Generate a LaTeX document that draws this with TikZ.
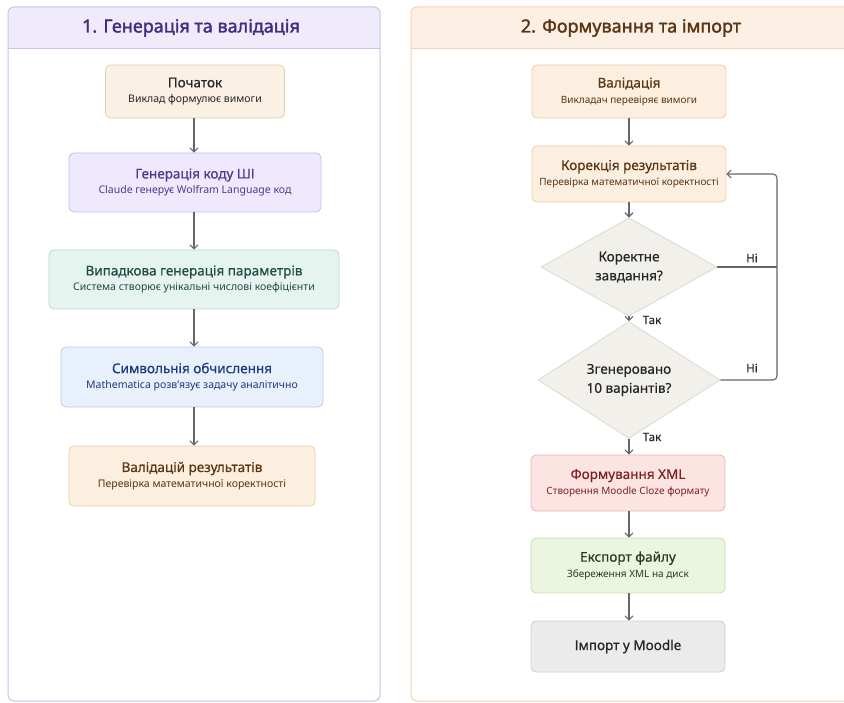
\documentclass[tikz,border=0pt]{standalone}
\usepackage{fontspec}
\setmainfont{Noto Sans}
\newfontfamily\semib{Noto Sans}[FakeBold=1.6]
\newfontfamily\medf{Noto Sans}[FakeBold=0.5]
\usetikzlibrary{arrows.meta,shapes.geometric}
\definecolor{pLborder}{HTML}{C9C3EE}
\definecolor{pLhead}{HTML}{EFEBFB}
\definecolor{pLtitle}{HTML}{3F2D7E}
\definecolor{pRborder}{HTML}{EFD3BC}
\definecolor{pRhead}{HTML}{FCEFE3}
\definecolor{pRtitle}{HTML}{5A3414}
\definecolor{begFill}{HTML}{FAF0E4}
\definecolor{begDraw}{HTML}{E2CFB4}
\definecolor{purFill}{HTML}{EEE9FC}
\definecolor{purDraw}{HTML}{C7BBEF}
\definecolor{purText}{HTML}{4A3A8C}
\definecolor{tealFill}{HTML}{E6F4F0}
\definecolor{tealDraw}{HTML}{B6DACF}
\definecolor{tealText}{HTML}{1F4A44}
\definecolor{bluFill}{HTML}{E7F0FB}
\definecolor{bluDraw}{HTML}{B9CDEB}
\definecolor{bluText}{HTML}{1F3A7C}
\definecolor{orFill}{HTML}{FDEFDF}
\definecolor{orDraw}{HTML}{EDCBA8}
\definecolor{orText}{HTML}{5A3414}
\definecolor{dFill}{HTML}{F2F0EB}
\definecolor{dDraw}{HTML}{DDD9D0}
\definecolor{redFill}{HTML}{FBE4E2}
\definecolor{redDraw}{HTML}{E8B6B0}
\definecolor{redText}{HTML}{7A2222}
\definecolor{grnFill}{HTML}{EBF5DF}
\definecolor{grnDraw}{HTML}{C8DFB1}
\definecolor{grnText}{HTML}{2A3A20}
\definecolor{gryFill}{HTML}{EBEBEB}
\definecolor{gryDraw}{HTML}{CFCFCF}
\definecolor{lineC}{HTML}{666666}
\newcommand{\bt}[2]{{\medf\fontsize{13.5}{16}\selectfont #1}\\[3.5pt]{\fontsize{10.5}{12}\selectfont #2}}
\newcommand{\bts}[2]{{\medf\fontsize{13.5}{16}\selectfont #1}\\[3.5pt]{\fontsize{10}{12}\selectfont #2}}
\begin{document}
\begin{tikzpicture}[x=1pt,y=-1pt,
  stepbox/.style={draw, rounded corners=5pt, line width=0.8pt, align=center, inner sep=0pt},
  decis/.style={diamond, draw=dDraw, fill=dFill, line width=0.8pt, align=center, inner sep=0pt, font=\medf\fontsize{13.5}{19}\selectfont, text=black!85},
  conn/.style={draw=lineC, line width=1.1pt, -{Straight Barb[length=4pt,width=8pt]}},
  plain/.style={draw=lineC, line width=1.1pt},
  lbl/.style={font=\medf\fontsize{11.5}{13}\selectfont, text=black!85}
]
\useasboundingbox (0,0) rectangle (844,703);
\clip (0,0) rectangle (844,703);
\fill[white] (0,0) rectangle (844,703);
% left panel
\begin{scope}
\clip[rounded corners=6pt] (8,7) rectangle (380,701);
\fill[pLhead] (8,7) rectangle (380,49);
\end{scope}
\draw[pLborder, line width=1pt, rounded corners=6pt] (8,7) rectangle (380,701);
\draw[pLborder, line width=1pt] (8,49) -- (380,49);
\node[text=pLtitle, font=\semib\fontsize{18}{20}\selectfont] (tL) at (191,28) {1. Генерація та валідація};
% right panel
\begin{scope}
\clip[rounded corners=6pt] (411,7) rectangle (870,701);
\fill[pRhead] (411,7) rectangle (870,49);
\end{scope}
\draw[pRborder, line width=1pt, rounded corners=6pt] (411,7) rectangle (870,701);
\draw[pRborder, line width=1pt] (411,49) -- (870,49);
\node[text=pRtitle, font=\semib\fontsize{18}{20}\selectfont] (tR) at (631,28) {2. Формування та імпорт};
% left nodes
\node[stepbox, draw=begDraw, fill=begFill, text=black!85, minimum width=179, minimum height=53] (start) at (195,91.5) {\bt{Початок}{Виклад формулює вимоги}};
\node[stepbox, draw=purDraw, fill=purFill, text=purText, minimum width=252, minimum height=59] (gen) at (195,182.5) {\bt{Генерація коду ШІ}{Claude генерує Wolfram Language код}};
\node[stepbox, draw=tealDraw, fill=tealFill, text=tealText, minimum width=290, minimum height=59] (rnd) at (194,279.5) {\bt{Випадкова генерація параметрів}{Система створює унікальні числові коефіцієнти}};
\node[stepbox, draw=bluDraw, fill=bluFill, text=bluText, minimum width=262, minimum height=60] (sym) at (192,377) {\bt{Символьнія обчислення}{Mathematica розв'язує задачу аналітично}};
\node[stepbox, draw=orDraw, fill=orFill, text=orText, minimum width=246, minimum height=60] (valL) at (192,476) {\bt{Валідацій результатів}{Перевірка математичної коректності}};
\draw[conn] (start.south -| 194,0) -- (gen.north -| 194,0);
\draw[conn] (gen.south -| 194,0) -- (rnd.north -| 194,0);
\draw[conn] (rnd.south -| 194,0) -- (sym.north -| 194,0);
\draw[conn] (sym.south -| 194,0) -- (valL.north -| 194,0);
% right nodes
\node[stepbox, draw=orDraw, fill=orFill, text=orText, minimum width=194, minimum height=53] (valR) at (629,91.5) {\bts{Валідація}{Викладач перевіряє вимоги}};
\node[stepbox, draw=orDraw, fill=orFill, text=orText, minimum width=194, minimum height=56] (cor) at (629,174) {\bts{Корекція результатів}{Перевірка математичної коректності}};
\node[decis, minimum width=176, minimum height=87] (d1) at (629,267) {Коректне\\завдання?};
\node[decis, minimum width=182, minimum height=93] (d2) at (629,380) {Згенеровано\\10 варіантів?};
\node[stepbox, draw=redDraw, fill=redFill, text=redText, minimum width=194, minimum height=56] (xml) at (628,483) {\bts{Формування XML}{Створення Moodle Cloze формату}};
\node[stepbox, draw=grnDraw, fill=grnFill, text=grnText, minimum width=194, minimum height=55] (exp) at (628,565.5) {\bts{Експорт файлу}{Збереження XML на диск}};
\node[stepbox, draw=gryDraw, fill=gryFill, text=black!85, minimum width=194, minimum height=51, font=\medf\fontsize{13.5}{16}\selectfont] (imp) at (628,646.5) {Імпорт у Moodle};
\coordinate (fbTop) at (777,174);
\coordinate (fb1) at (777,267);
\coordinate (fb2) at (777,380);
\draw[conn] (valR) -- (cor);
\draw[conn] (cor) -- (d1);
\draw[conn] (d1) -- (d2);
\draw[conn] (d2.south) -- (xml.north -| d2.south);
\draw[conn] (xml.south -| d2.south) -- (exp.north -| d2.south);
\draw[conn] (exp.south -| d2.south) -- (imp.north -| d2.south);
\draw[plain] (d1.east) -- (fb1);
\draw[conn, rounded corners=4pt] (d2.east) -- (fb2) -- (fbTop) -- (cor.east);
\node[lbl] (n1) at (752,258) {Ні};
\node[lbl] (n2) at (752,368) {Ні};
\node[lbl] (y1) at (652,320) {Так};
\node[lbl] (y2) at (652,437) {Так};
\end{tikzpicture}
\end{document}
